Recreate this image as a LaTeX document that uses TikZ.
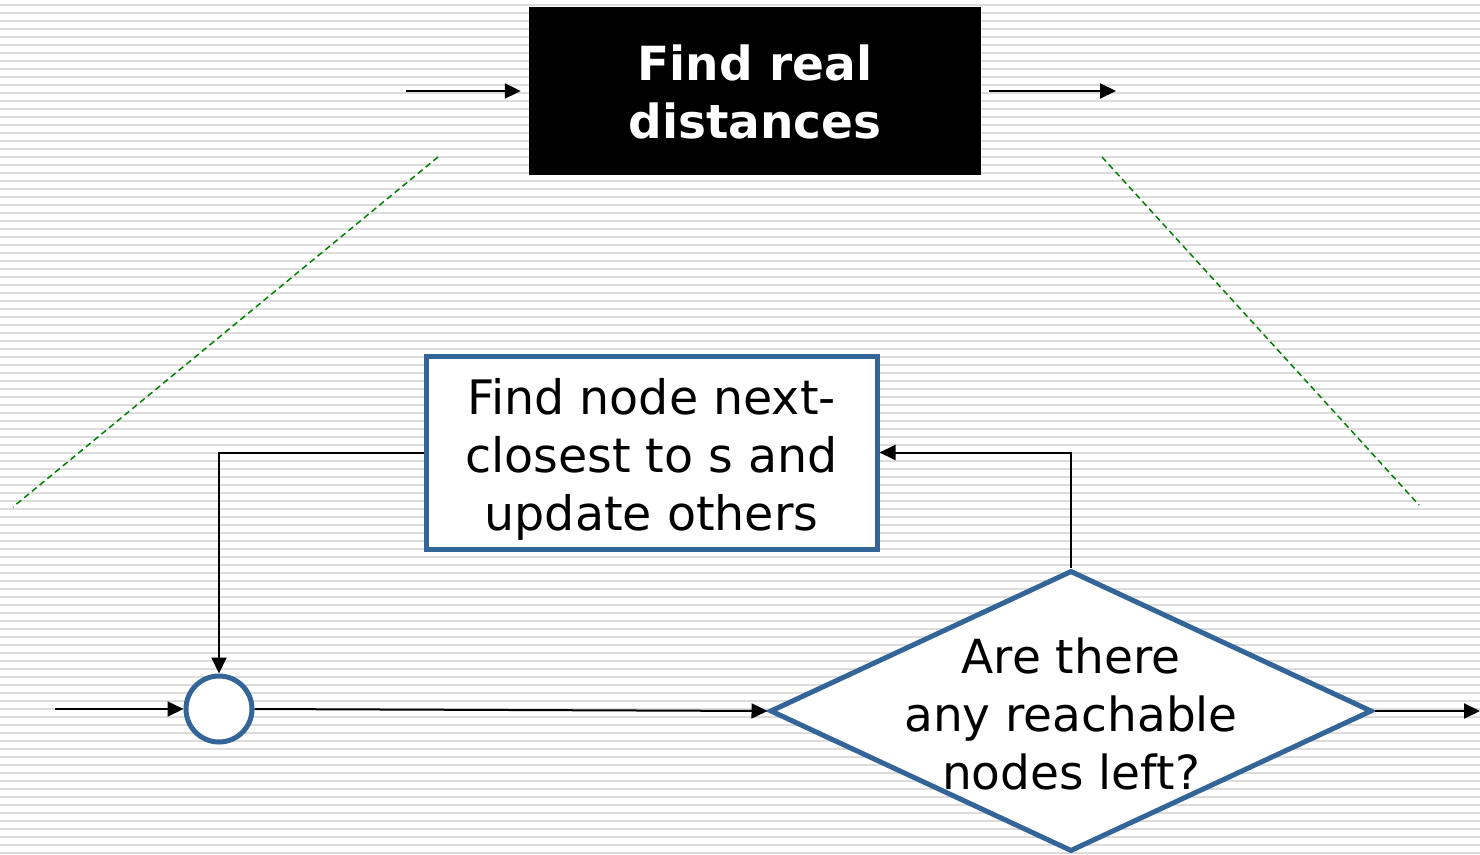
\documentclass[tikz,border=0pt]{standalone}
\usepackage{fontspec}
\setmainfont{DejaVu Sans}
\usetikzlibrary{arrows.meta,shapes.geometric}
\definecolor{stripe}{RGB}{220,220,220}
\definecolor{flowblue}{RGB}{52,101,153}
\definecolor{guide}{RGB}{0,128,0}
\begin{document}
\begin{tikzpicture}[x=1pt,y=-1pt,
  flowshape/.style={draw=flowblue, line width=5pt, fill=white, inner sep=0pt},
  conn/.style={line width=2pt, -{Triangle[length=16pt,width=15pt]}},
  guideline/.style={draw=guide, line width=1.5pt, dash pattern=on 6pt off 4pt},
  bodytext/.style={font=\fontsize{47.5}{58}\selectfont, align=center, inner sep=0pt},
  headtext/.style={font=\fontsize{47}{58}\selectfont\bfseries, align=center, text=white}
]
\useasboundingbox (0,0) rectangle (1480,854);
% striped backdrop
\fill[white] (0,0) rectangle (1480,854);
\foreach \y in {4,12,...,852} \fill[stripe] (0,\y) rectangle (1480,\y+2);

% top process
\node[fill=black, minimum width=452pt, minimum height=168pt, inner sep=0pt] (real) at (755,91) {};
\node[headtext] at (755,92) {Find real\\distances};
\coordinate (topin) at (406,91);
\coordinate (topout) at (1116,91);
\draw[conn, shorten >=8pt] (topin) -- (real.west |- topin);
\draw[conn, shorten <=8pt] (real.east |- topout) -- (topout);

% zoom guide lines
\coordinate (gl1) at (438,157);
\coordinate (gl2) at (13,507);
\coordinate (gr1) at (1102,157);
\coordinate (gr2) at (1419,505);
\draw[guideline] (gl1) -- (gl2);
\draw[guideline] (gr1) -- (gr2);

% loop body
\node[flowshape, rectangle, minimum width=451pt, minimum height=193pt] (update) at (651.5,452.5) {};
\node[bodytext] at (651.5,459) {Find node next-\\closest to s and\\update others};

\node[flowshape, circle, minimum size=66pt] (join) at (219,709) {};
\node[flowshape, diamond, minimum width=602pt, minimum height=281pt] (test) at (1071,711) {};
\node[bodytext, font=\fontsize{47}{58}\selectfont] at (1071,714) {Are there\\any reachable\\nodes left?};

\coordinate (loopin) at (55,709);
\coordinate (loopout) at (1480,711);
\draw[conn] (loopin) -- (join.west);
\draw[conn] (join.east) -- (test.west);
\draw[conn] (update.west) -| (join.north);
\draw[conn] (test.north) |- (update.east);
\draw[conn] (test.east) -- (loopout);
\end{tikzpicture}
\end{document}
